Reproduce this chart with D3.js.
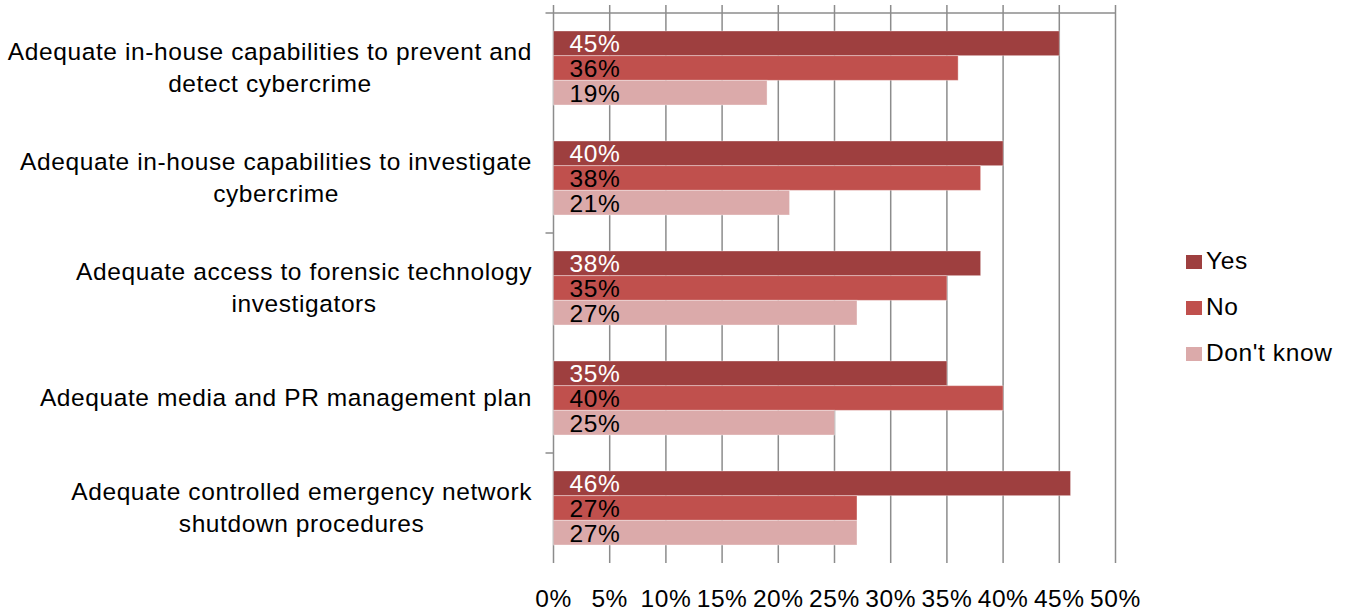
<!DOCTYPE html>
<html>
<head>
<meta charset="utf-8">
<script src="https://cdn.jsdelivr.net/npm/d3@7"></script>
<style>
  html, body { margin: 0; padding: 0; background: #fff; }
  svg { display: block; font-family: "Liberation Sans", Arial, Helvetica, sans-serif; }
  text { letter-spacing: 0.6px; }
</style>
</head>
<body>
<svg id="chart" width="1356" height="611"></svg>
<script>
// Survey categories (each entry is one label, split into display lines)
const categories = [
  ["Adequate in-house capabilities to prevent and", "detect cybercrime"],
  ["Adequate in-house capabilities to investigate", "cybercrime"],
  ["Adequate access to forensic technology", "investigators"],
  ["Adequate media and PR management plan"],
  ["Adequate controlled emergency network", "shutdown procedures"]
];
const seriesNames = ["Yes", "No", "Don't know"];
const yesValues = [45, 40, 38, 35, 46];
const noValues = [36, 38, 35, 40, 27];
const dontKnowValues = [19, 21, 27, 25, 27];
const tickValues = [0, 5, 10, 15, 20, 25, 30, 35, 40, 45, 50];
const colors = ["#9e3f3f", "#c0504d", "#dbaaaa"];
const labelColors = ["#ffffff", "#000000", "#000000"];

const series = [yesValues, noValues, dontKnowValues];

const svg = d3.select("#chart");
const fontSize = 24.5;
const gridColor = "#8c8c8c";

// Plot geometry
const plot = { left: 553.5, right: 1115.5, top: 13, bottom: 563 };

const x = d3.scaleLinear().domain([0, 50]).range([plot.left, plot.right]);
const y = d3.scaleBand()
  .domain(d3.range(categories.length))
  .range([plot.top, plot.bottom])
  .paddingInner(0)
  .paddingOuter(0);

// Bars inside a category band
const groupPad = 0.1636; // fraction of the band left empty above and below the bars
const inner = d3.scaleBand()
  .domain(d3.range(seriesNames.length))
  .range([y.bandwidth() * groupPad, y.bandwidth() * (1 - groupPad)]);

// Vertical gridlines (with small tick extensions above the top axis line)
svg.append("g")
  .selectAll("line")
  .data(tickValues)
  .join("line")
  .attr("x1", d => x(d)).attr("x2", d => x(d))
  .attr("y1", plot.top - 8).attr("y2", plot.bottom)
  .attr("stroke", gridColor)
  .attr("stroke-width", 1.5);

// Top (category) axis line with a left tick extension
svg.append("line")
  .attr("x1", plot.left - 8).attr("x2", plot.right)
  .attr("y1", plot.top).attr("y2", plot.top)
  .attr("stroke", gridColor).attr("stroke-width", 1.5);

// Ticks on the left side of the category axis, every second boundary
svg.append("g")
  .selectAll("line")
  .data([2, 4])
  .join("line")
  .attr("x1", plot.left - 8).attr("x2", plot.left)
  .attr("y1", d => y(d)).attr("y2", d => y(d))
  .attr("stroke", gridColor).attr("stroke-width", 1.5);

// Bars
const groups = svg.append("g")
  .selectAll("g")
  .data(categories.map((c, i) => i))
  .join("g")
  .attr("transform", i => `translate(0,${y(i)})`);

groups.each(function(ci) {
  const g = d3.select(this);
  series.forEach((vals, si) => {
    g.append("rect")
      .attr("x", x(0))
      .attr("y", inner(si))
      .attr("width", x(vals[ci]) - x(0))
      .attr("height", inner.bandwidth())
      .attr("fill", colors[si])
      .attr("stroke", "#ffffff")
      .attr("stroke-opacity", 0.35)
      .attr("stroke-width", 1);
    g.append("text")
      .attr("x", x(0) + 16)
      .attr("y", inner(si) + inner.bandwidth() / 2 + 9)
      .attr("font-size", fontSize)
      .attr("fill", labelColors[si])
      .text(vals[ci] + "%");
  });
});

// Category labels: each block centered, right edge of its widest line at 532
const labelRight = 532;
const lineGap = 32;
categories.forEach((lines, ci) => {
  const t = svg.append("text")
    .attr("font-size", fontSize)
    .attr("fill", "#000")
    .attr("text-anchor", "middle");
  const cy = y(ci) + y.bandwidth() / 2;
  const n = lines.length;
  const spans = lines.map((ln, li) => t.append("tspan")
    .attr("y", cy + (li - (n - 1) / 2) * lineGap + 8)
    .text(ln));
  const widest = d3.max(spans, s => s.node().getComputedTextLength());
  spans.forEach(s => s.attr("x", labelRight - widest / 2));
});

// Value axis labels along the bottom
svg.append("g")
  .selectAll("text")
  .data(tickValues)
  .join("text")
  .attr("x", d => x(d))
  .attr("y", 607)
  .attr("text-anchor", "middle")
  .attr("font-size", fontSize)
  .attr("fill", "#000")
  .text(d => d + "%");

// Legend
const legend = svg.append("g")
  .selectAll("g")
  .data(seriesNames)
  .join("g")
  .attr("transform", (d, i) => `translate(1186,${269 + i * 46})`);
legend.append("rect")
  .attr("x", 0).attr("y", -14)
  .attr("width", 16).attr("height", 14)
  .attr("fill", (d, i) => colors[i]);
legend.append("text")
  .attr("x", 20).attr("y", 0)
  .attr("font-size", fontSize)
  .attr("fill", "#000")
  .text(d => d);
</script>
</body>
</html>
